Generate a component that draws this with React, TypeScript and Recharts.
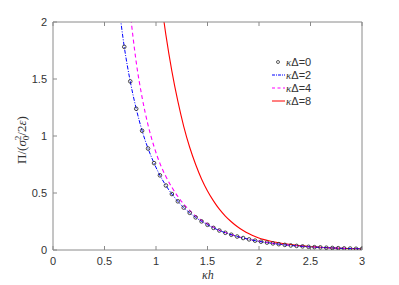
import { LineChart, Line, XAxis, YAxis } from "recharts"

// kh grid (3/52 steps, k = 11..52)
const kh = [
  0.635, 0.692, 0.75, 0.808, 0.865, 0.923, 0.981, 1.038, 1.096, 1.154, 1.212,
  1.269, 1.327, 1.385, 1.442, 1.5, 1.558, 1.615, 1.673, 1.731, 1.788, 1.846,
  1.904, 1.962, 2.019, 2.077, 2.135, 2.192, 2.25, 2.308, 2.365, 2.423, 2.481,
  2.538, 2.596, 2.654, 2.712, 2.769, 2.827, 2.885, 2.942, 3.0,
]

// κΔ=0 (markers)
const pi0 = [
  null, 1.782, 1.479, 1.239, 1.046, 0.89, 0.762, 0.655, 0.566, 0.491, 0.427,
  0.372, 0.326, 0.286, 0.251, 0.221, 0.194, 0.171, 0.151, 0.134, 0.118, 0.105,
  0.093, 0.082, 0.073, 0.065, 0.058, 0.051, 0.045, 0.04, 0.036, 0.032, 0.028,
  0.025, 0.023, 0.02, 0.018, 0.016, 0.014, 0.013, 0.011, 0.01,
]

// κΔ=2
const pi2 = [
  2.175, 1.782, 1.479, 1.239, 1.046, 0.89, 0.762, 0.655, 0.566, 0.491, 0.427,
  0.372, 0.326, 0.286, 0.251, 0.221, 0.194, 0.171, 0.151, 0.134, 0.118, 0.105,
  0.093, 0.082, 0.073, 0.065, 0.058, 0.051, 0.045, 0.04, 0.036, 0.032, 0.028,
  0.025, 0.023, 0.02, 0.018, 0.016, 0.014, 0.013, 0.011, 0.01,
]

// κΔ=4
const pi4 = [
  null, 2.64, 2.085, 1.648, 1.339, 1.095, 0.907, 0.76, 0.645, 0.55, 0.47,
  0.402, 0.347, 0.3, 0.261, 0.228, 0.199, 0.174, 0.153, 0.135, 0.119, 0.106,
  0.094, 0.083, 0.074, 0.066, 0.058, 0.052, 0.046, 0.041, 0.036, 0.032, 0.029,
  0.026, 0.023, 0.02, 0.018, 0.016, 0.014, 0.013, 0.011, 0.01,
]

// κΔ=8
const pi8 = [
  null, null, null, null, null, null, null, 2.27, 1.887, 1.569, 1.305,
  1.085, 0.901, 0.75, 0.623, 0.518, 0.431, 0.358, 0.298, 0.248, 0.206, 0.171,
  0.142, 0.118, 0.099, 0.085, 0.073, 0.063, 0.055, 0.048, 0.042, 0.036, 0.031,
  0.027, 0.024, 0.021, 0.018, 0.016, 0.014, 0.013, 0.011, 0.01,
]

const xTicks = [0, 0.5, 1, 1.5, 2, 2.5, 3]
const yTicks = [0, 0.5, 1, 1.5, 2]

const legendItems = [
  { label: "0", kind: "marker", color: "#333" },
  { label: "2", kind: "dashdot", color: "#0000ff" },
  { label: "4", kind: "dash", color: "#ff00ff" },
  { label: "8", kind: "solid", color: "#ff0000" },
]

const data = kh.map((x, i) => ({
  kh: x,
  d0: pi0[i],
  d2: pi2[i],
  d4: pi4[i],
  d8: pi8[i],
}))

const axisColor = "#8a8a8a"
const tickFont = { fontSize: 11, fill: "#333", fontFamily: "Liberation Sans, Arial, sans-serif" }
const noLabel = () => <g />

export default function App() {
  return (
    <div style={{ position: "absolute", left: 0, top: 0, width: 399, height: 285, background: "#fff" }}>
      <LineChart width={399} height={285} data={data} margin={{ top: 21, right: 36, bottom: 34, left: 52 }}>
        <XAxis
          dataKey="kh"
          type="number"
          domain={[0, 3]}
          ticks={xTicks}
          allowDataOverflow
          height={1}
          tickSize={-4}
          tickMargin={11}
          tick={tickFont}
          stroke={axisColor}
        />
        <XAxis
          xAxisId="top"
          orientation="top"
          dataKey="kh"
          type="number"
          domain={[0, 3]}
          ticks={xTicks}
          height={1}
          tickSize={-4}
          tick={noLabel}
          stroke={axisColor}
        />
        <YAxis
          type="number"
          domain={[0, 2]}
          ticks={yTicks}
          allowDataOverflow
          width={1}
          tickSize={-4}
          tickMargin={10}
          tick={tickFont}
          stroke={axisColor}
        />
        <YAxis
          yAxisId="right"
          orientation="right"
          type="number"
          domain={[0, 2]}
          ticks={yTicks}
          width={1}
          tickSize={-4}
          tick={noLabel}
          stroke={axisColor}
        />
        <Line dataKey="d8" stroke="#ff0000" strokeWidth={1.1} dot={false} type="monotone" isAnimationActive={false} />
        <Line dataKey="d4" stroke="#ff00ff" strokeWidth={1.1} strokeDasharray="4 3" dot={false} type="monotone" isAnimationActive={false} />
        <Line dataKey="d2" stroke="#0000ff" strokeWidth={1} strokeDasharray="4 1.5 1 1.5" dot={false} type="monotone" isAnimationActive={false} />
        <Line
          dataKey="d0"
          stroke="none"
          dot={{ r: 1.8, stroke: "#333", strokeWidth: 0.9, fill: "none" }}
          type="monotone"
          isAnimationActive={false}
        />
      </LineChart>

      <svg width={399} height={285} style={{ position: "absolute", left: 0, top: 0, pointerEvents: "none" }}>
        {/* y label */}
        <text
          transform="translate(26,140) rotate(-90)"
          textAnchor="middle"
          fontSize={13}
          fill="#333"
          fontFamily="Liberation Serif, serif"
        >
          Π/(<tspan fontStyle="italic">σ</tspan>
          <tspan fontSize={9} dy={-5}>2</tspan>
          <tspan fontSize={9} dx={-4.5} dy={8}>0</tspan>
          <tspan dy={-3}>/2</tspan>
          <tspan fontStyle="italic">ε</tspan>)
        </text>
        {/* x label */}
        <text x={208} y={279} textAnchor="middle" fontSize={12} fontStyle="italic" fill="#333" fontFamily="Liberation Serif, serif">
          κh
        </text>
        {/* legend */}
        {legendItems.map((it, i) => {
          const y = 62 + i * 13
          return (
            <g key={it.label}>
              {it.kind === "marker" ? (
                <circle cx={278} cy={y} r={1.5} fill="none" stroke={it.color} strokeWidth={0.8} />
              ) : (
                <line
                  x1={272}
                  x2={285}
                  y1={y}
                  y2={y}
                  stroke={it.color}
                  strokeWidth={1}
                  strokeDasharray={it.kind === "dash" ? "3 2.5" : it.kind === "dashdot" ? "3 1 1 1" : undefined}
                />
              )}
              <text x={286} y={y + 4} fontSize={11} fill="#333" fontFamily="Liberation Sans, Arial, sans-serif">
                <tspan fontStyle="italic" fontFamily="Liberation Serif, serif">κ</tspan>Δ={it.label}
              </text>
            </g>
          )
        })}
      </svg>
    </div>
  )
}
